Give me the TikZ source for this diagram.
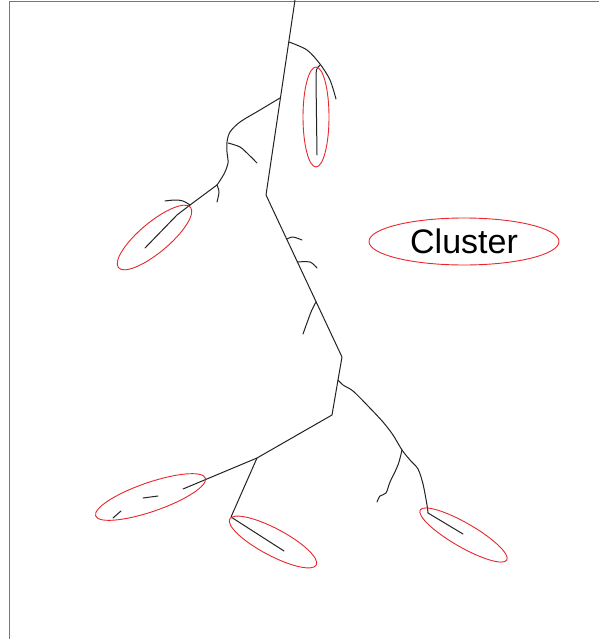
\documentclass[tikz,border=0pt]{standalone}
\usepackage{fontspec}
\setmainfont{Liberation Sans}
\usetikzlibrary{shapes.geometric}
\definecolor{twig}{HTML}{222222}
\definecolor{ring}{HTML}{E8262B}
\definecolor{frame}{HTML}{777777}

\begin{document}
\begin{tikzpicture}[
    x=1pt, y=-1pt,
    branch/.style={draw=twig, line width=1pt, line join=round, line cap=round},
    group/.style={ellipse, draw=ring, line width=0.9pt, inner sep=0pt},
    border/.style={draw=frame, line width=1.8pt}
]
\useasboundingbox (0,0) rectangle (599,639);

% Frame (cut off at right and bottom)
\draw[border] (9.5,639) -- (9.5,1.5) -- (599,1.5);

% Trunk
\coordinate (top) at (295,0);
\coordinate (kink) at (266,195);
\coordinate (elbow) at (342,357);
\coordinate (fork) at (338,380);
\coordinate (base) at (332,415);
\coordinate (split) at (257,458);
\coordinate (tipA) at (183,489);
\coordinate (knee) at (231,517);
\coordinate (tipB) at (284,551);

\draw[branch] (top) -- (kink) -- (elbow) -- (fork) -- (base) -- (split) -- (tipA);
\draw[branch] (split) -- (knee) -- (tipB);

% Upper right branch
\coordinate (upjoin) at (289,42);
\draw[branch] plot[smooth] coordinates {(upjoin) (307,50) (320,64) (330,80) (336,99)};
\draw[branch] (320,65) .. controls (316,69) .. (316,80) -- (317,155);

% Upper left branch
\coordinate (leftjoin) at (280,98);
\coordinate (leftfork) at (190,205);
\draw[branch] plot[smooth] coordinates {(leftjoin) (260,110) (240,122) (230,132) (227,142) (227,152) (228,163) (224,174) (217,185)};
\draw[branch] (217,185) -- (leftfork) -- (177,215) -- (145,248);
\draw[branch] plot[smooth] coordinates {(228,143) (240,147) (249,155) (257,163)};
\draw[branch] plot[smooth] coordinates {(217,185) (219,192) (217,202)};
\draw[branch] plot[smooth] coordinates {(leftfork) (183,201) (175,200) (165,201)};

% Twigs on the trunk
\draw[branch] plot[smooth] coordinates {(287,239) (293,237) (302,240)};
\draw[branch] plot[smooth] coordinates {(297,262) (310,262) (317,268)};
\draw[branch] plot[smooth] coordinates {(316,302) (311,312) (303,334)};

% Lower right branch
\coordinate (rightfork) at (402,450);
\coordinate (rightbend) at (428,513);
\draw[branch] plot[smooth] coordinates {(fork) (343,385) (353,391) (368,406) (383,422) (393,435) (rightfork) (410,460) (418,469) (423,484) (427,505) (rightbend)};
\draw[branch] (rightbend) -- (463,534);
\draw[branch] plot[smooth] coordinates {(rightfork) (398,465) (390,482) (386,493) (380,496) (377,502)};

% Short pieces in the lower left group
\draw[branch] (143,498) -- (158,496);
\draw[branch] (113,518) -- (121,511);

% Clusters
\node[group, minimum width=26pt, minimum height=100pt] (grpA) at (316,117) {};
\node[group, minimum width=94pt, minimum height=30pt, rotate=40] (grpB) at (154.5,237.5) {};
\node[group, minimum width=116pt, minimum height=29pt, rotate=19] (grpC) at (150.5,497) {};
\node[group, minimum width=98pt, minimum height=27pt, rotate=-28] (grpD) at (273,542) {};
\node[group, minimum width=100pt, minimum height=24pt, rotate=-30] (grpE) at (463.5,535) {};

% Legend
\node[group, minimum width=190pt, minimum height=47pt, font=\fontsize{34}{40}\selectfont] (legend) at (464,241.5) {Cluster};

\end{tikzpicture}
\end{document}
